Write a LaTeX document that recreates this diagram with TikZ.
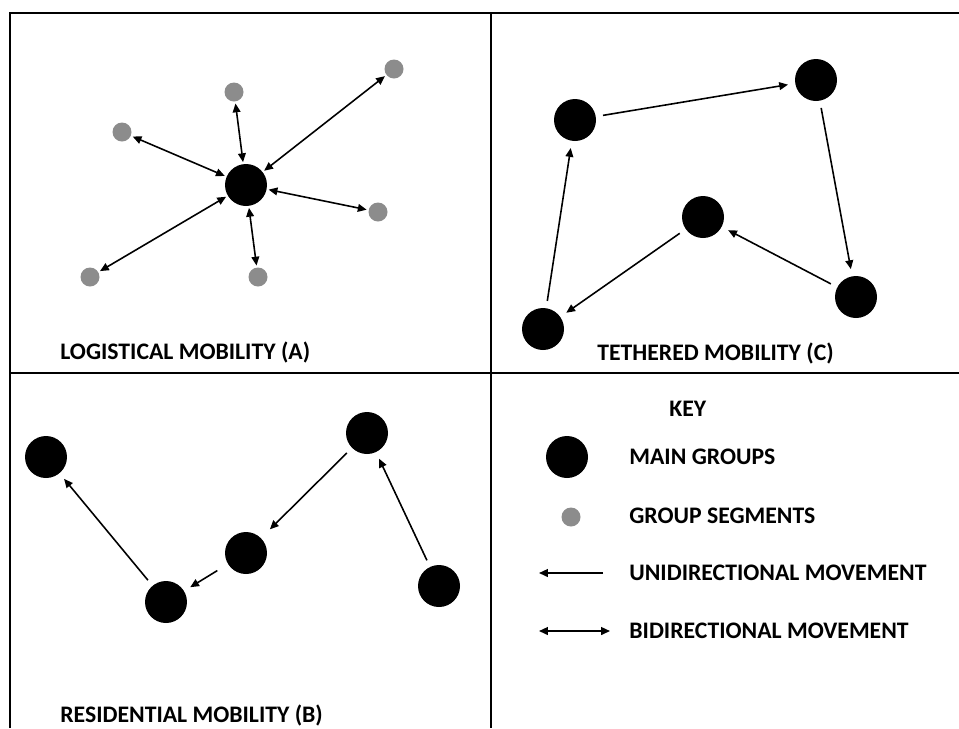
\documentclass[tikz,border=0pt]{standalone}
\usepackage{fontspec}
\setmainfont{Carlito}
\usetikzlibrary{arrows.meta}
\definecolor{segmentgray}{RGB}{140,140,140}
\begin{document}
\begin{tikzpicture}[x=0.02cm,y=-0.02cm,
  main/.style={circle,fill=black,inner sep=0pt,minimum size=0.84cm},
  segment/.style={circle,fill=segmentgray,inner sep=0pt,minimum size=0.38cm},
  move/.style={-{Triangle[length=5pt,width=4.4pt]},line width=0.9pt,shorten >=4pt,shorten <=4pt},
  twoway/.style={{Triangle[length=5pt,width=4.4pt]}-{Triangle[length=5pt,width=4.4pt]},line width=0.9pt,shorten >=1pt,shorten <=1pt},
  paneltext/.style={anchor=west,inner sep=0pt,font=\fontsize{13.5}{15}\selectfont\bfseries}]
  \useasboundingbox (0,0) rectangle (959,728);
  \draw[line width=1.4pt] (10,728) -- (10,13) -- (959,13);
  \draw[line width=1.4pt] (491,13) -- (491,728);
  \draw[line width=1.4pt] (10,373) -- (959,373);

  % logistical
  \node[main] (hub) at (246,185) {};
  \node[segment] (s1) at (394,69) {};
  \node[segment] (s2) at (234,92) {};
  \node[segment] (s3) at (122,132) {};
  \node[segment] (s4) at (378,212) {};
  \node[segment] (s5) at (258,277) {};
  \node[segment] (s6) at (90,277) {};
  \foreach \s in {s1,s2,s3,s4,s5,s6}
    \draw[twoway] (hub) -- (\s);
  \node[paneltext] (capA) at (60,352) {LOGISTICAL MOBILITY (A)};

  % tethered
  \node[main] (t1) at (575,120) {};
  \node[main] (t2) at (816,80) {};
  \node[main] (t3) at (856,297) {};
  \node[main] (t4) at (703,217) {};
  \node[main] (t5) at (543,329) {};
  \draw[move] (t1) -- (t2);
  \draw[move] (t2) -- (t3);
  \draw[move] (t3) -- (t4);
  \draw[move] (t4) -- (t5);
  \draw[move] (t5) -- (t1);
  \node[paneltext] (capC) at (597,353) {TETHERED MOBILITY (C)};

  % residential
  \node[main] (r1) at (439,586) {};
  \node[main] (r2) at (367,433) {};
  \node[main] (r3) at (246,553) {};
  \node[main] (r4) at (166,602) {};
  \node[main] (r5) at (46,457) {};
  \draw[move] (r1) -- (r2);
  \draw[move,shorten >=7pt] (r2) -- (r3);
  \draw[move,shorten <=7pt] (r3) -- (r4);
  \draw[move] (r4) -- (r5);
  \node[paneltext] (capB) at (60,715) {RESIDENTIAL MOBILITY (B)};

  % key
  \node[paneltext] (keyhead) at (669,409) {KEY};
  \node[main] (keymain) at (567,457) {};
  \node[paneltext] (keymaintext) at (629,457) {MAIN GROUPS};
  \node[segment] (keyseg) at (571,517) {};
  \node[paneltext] (keysegtext) at (629,516) {GROUP SEGMENTS};
  \coordinate (u1) at (603,573);
  \coordinate (u2) at (539,573);
  \draw[move,shorten >=0pt,shorten <=0pt] (u1) -- (u2);
  \node[paneltext] (keyuni) at (629,573) {UNIDIRECTIONAL MOVEMENT};
  \coordinate (b1) at (539,631);
  \coordinate (b2) at (610,631);
  \draw[twoway,shorten >=0pt,shorten <=0pt] (b1) -- (b2);
  \node[paneltext] (keybi) at (629,631) {BIDIRECTIONAL MOVEMENT};
\end{tikzpicture}
\end{document}
